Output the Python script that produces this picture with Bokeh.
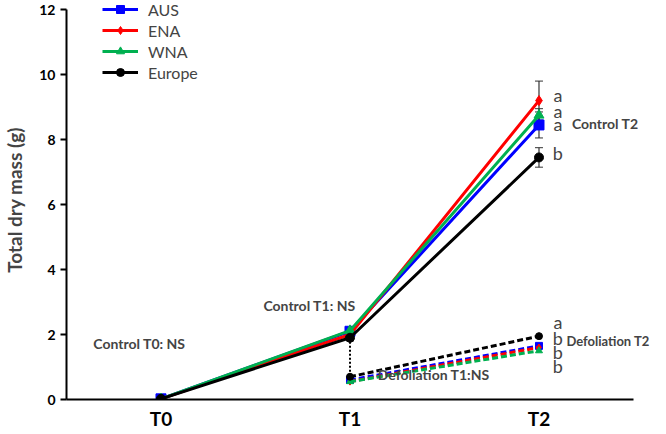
from bokeh.plotting import figure
from bokeh.models import ColumnDataSource, Whisker, Label, Legend, LegendItem, FixedTicker, Range1d
from bokeh.embed import file_html
from bokeh.resources import INLINE

# ---------------- data ----------------
categories = ["T0", "T1", "T2"]
defol_categories = ["T1", "T2"]
regions = ["AUS", "ENA", "WNA", "Europe"]
colors = ["#0000FF", "#FF0000", "#00B050", "#000000"]
markers = ["square", "diamond", "triangle", "circle"]

control_AUS = [0.02, 2.10, 8.45]
control_ENA = [0.02, 2.00, 9.20]
control_WNA = [0.02, 2.12, 8.75]
control_Europe = [0.02, 1.90, 7.45]

control_err_AUS = [0.02, 0.10, 0.40]
control_err_ENA = [0.02, 0.10, 0.60]
control_err_WNA = [0.02, 0.10, 0.20]
control_err_Europe = [0.02, 0.10, 0.30]

defol_AUS = [0.60, 1.65]
defol_ENA = [0.55, 1.60]
defol_WNA = [0.55, 1.50]
defol_Europe = [0.70, 1.95]

control_letters = ["a", "a", "a", "b"]
defol_letters = ["a", "b", "b", "b"]
y_ticks = [0, 2, 4, 6, 8, 10, 12]

control_all = [control_AUS, control_ENA, control_WNA, control_Europe]
control_err_all = [control_err_AUS, control_err_ENA, control_err_WNA, control_err_Europe]
defol_all = [defol_AUS, defol_ENA, defol_WNA, defol_Europe]

FONT = "Lato"

xi = {c: i for i, c in enumerate(categories)}
x_ctrl = [xi[c] for c in categories]
x_defol = [xi[c] for c in defol_categories]

p = figure(width=650, height=432, x_range=Range1d(-0.5, 2.59), y_range=Range1d(0, 12.28),
           output_backend="svg", toolbar_location=None,
           min_border_left=58, min_border_right=0, min_border_top=0, min_border_bottom=32)
p.outline_line_color = None
p.xgrid.grid_line_color = None
p.ygrid.grid_line_color = None
p.background_fill_color = "white"

# axes
p.yaxis.ticker = FixedTicker(ticks=y_ticks)
p.yaxis.bounds = (0, 12)
p.yaxis.minor_tick_line_color = None
p.yaxis.major_tick_out = 6
p.yaxis.major_tick_in = 0
p.yaxis.axis_line_width = 2
p.yaxis.major_tick_line_width = 2
p.yaxis.major_label_text_font = FONT
p.yaxis.major_label_text_font_style = "bold"
p.yaxis.major_label_text_font_size = "14px"
p.yaxis.major_label_text_color = "black"
p.yaxis.axis_label = "Total dry mass (g)"
p.yaxis.axis_label_text_font = FONT
p.yaxis.axis_label_text_font_style = "bold"
p.yaxis.axis_label_text_font_size = "19px"
p.yaxis.axis_label_standoff = 10

p.xaxis.ticker = FixedTicker(ticks=x_ctrl)
p.xaxis.major_label_overrides = {i: c for i, c in enumerate(categories)}
p.xaxis.bounds = (-0.5, 2.5)
p.xaxis.minor_tick_line_color = None
p.xaxis.axis_line_width = 2
p.xaxis.major_tick_line_color = None
p.xaxis.major_tick_out = 0
p.xaxis.major_tick_in = 0
p.xaxis.major_label_standoff = 7
p.xaxis.major_label_text_font = FONT
p.xaxis.major_label_text_font_style = "bold"
p.xaxis.major_label_text_font_size = "19px"
p.xaxis.major_label_text_color = "black"

legend_items = []
# defoliation dashed lines
for i, r in enumerate(regions):
    src = ColumnDataSource(dict(x=x_defol, y=defol_all[i]))
    p.line("x", "y", source=src, line_color=colors[i], line_width=3, line_dash="6 3")
    p.scatter("x", "y", source=src, marker=markers[i], size=7, fill_color=colors[i], line_color=colors[i])

# vertical dotted connector at T1 (Europe)
p.segment(x0=[xi["T1"]], y0=[control_Europe[xi["T1"]]], x1=[xi["T1"]], y1=[defol_Europe[0]],
          line_color="black", line_width=2, line_dash="2 2")

# control solid lines
for i, r in enumerate(regions):
    lo = [v - e for v, e in zip(control_all[i], control_err_all[i])]
    hi = [v + e for v, e in zip(control_all[i], control_err_all[i])]
    src = ColumnDataSource(dict(x=x_ctrl, y=control_all[i], lo=lo, hi=hi))
    w = Whisker(base="x", upper="hi", lower="lo", source=src, line_color="#333333", line_width=1.2)
    w.upper_head.size = 8
    w.lower_head.size = 8
    w.upper_head.line_color = "#333333"
    w.lower_head.line_color = "#333333"
    p.add_layout(w)
    ln = p.line("x", "y", source=src, line_color=colors[i], line_width=3)
    sc = p.scatter("x", "y", source=src, marker=markers[i], size=10 if markers[i] != "circle" else 9,
                   fill_color=colors[i], line_color=colors[i])
    legend_items.append(LegendItem(label=r, renderers=[ln, sc]))

legend = Legend(items=legend_items, location=(36, 317), padding=0, margin=0, spacing=1,
                glyph_width=36, glyph_height=20, label_height=20, label_standoff=10,
                label_text_font=FONT, label_text_font_size="16px", border_line_color=None,
                background_fill_alpha=0)
p.add_layout(legend)

texts = [
    ("Control T0: NS", xi["T0"] - 0.358, 1.73, "14px"),
    ("Control T1: NS", xi["T1"] - 0.458, 2.89, "14px"),
    ("Defoliation T1:NS", xi["T1"] + 0.147, 0.76, "14px"),
    ("Control T2", xi["T2"] + 0.174, 8.48, "14px"),
    ("Defoliation T2", xi["T2"] + 0.145, 1.79, "13px"),
]
for t, x, y, fs in texts:
    p.add_layout(Label(x=x, y=y, text=t, text_font=FONT, text_font_style="bold",
                       text_font_size=fs, text_baseline="middle", text_align="left"))

control_letter_y = [9.36, 8.88, 8.48, 7.60]
defol_letter_y = [2.37, 1.88, 1.46, 1.03]
for t, y in zip(control_letters + defol_letters, control_letter_y + defol_letter_y):
    p.add_layout(Label(x=xi["T2"] + 0.100, y=y, text=t, text_font=FONT,
                       text_font_size="18px", text_baseline="middle", text_align="center"))

open("out.html", "w").write(file_html(p, INLINE))
